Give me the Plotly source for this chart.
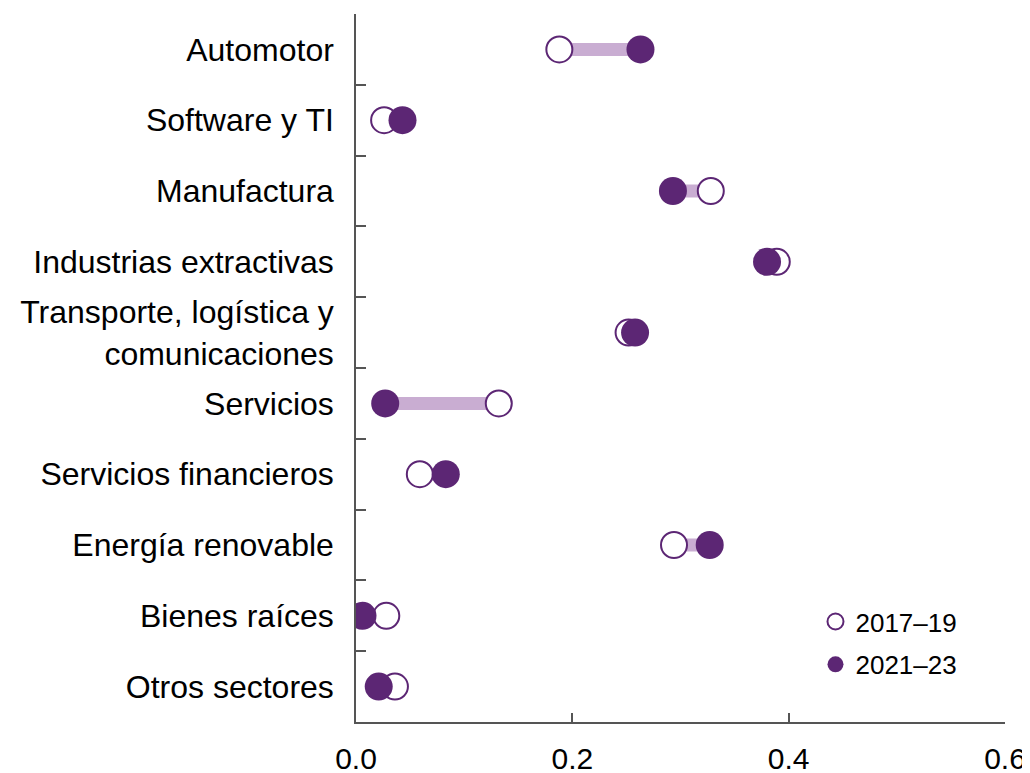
import plotly.graph_objects as go

categories = ["Automotor", "Software y TI", "Manufactura", "Industrias extractivas",
              "Transporte, logística y<br>comunicaciones", "Servicios",
              "Servicios financieros", "Energía renovable", "Bienes raíces", "Otros sectores"]
values_2017_19 = [0.188, 0.026, 0.328, 0.389, 0.252, 0.132, 0.059, 0.294, 0.028, 0.036]
values_2021_23 = [0.263, 0.043, 0.293, 0.380, 0.258, 0.027, 0.083, 0.327, 0.006, 0.021]
series_names = ["2017–19", "2021–23"]
x_ticks = [0.0, 0.2, 0.4, 0.6]

DARK = "#5C2674"
LIGHT = "#C9ADD2"
FONT = "Liberation Sans, Arial, sans-serif"

# connector segments
cx, cy = [], []
for c, a, b in zip(categories, values_2017_19, values_2021_23):
    cx += [a, b, None]
    cy += [c, c, None]

fig = go.Figure()
fig.add_trace(go.Scatter(x=cx, y=cy, mode="lines", line=dict(color=LIGHT, width=13),
                         showlegend=False, hoverinfo="skip"))
fig.add_trace(go.Scatter(x=values_2017_19, y=categories, mode="markers", name=series_names[0],
                         legendgroup="a",
                         marker=dict(size=26, color="white", line=dict(color=DARK, width=2))))
fig.add_trace(go.Scatter(x=values_2021_23, y=categories, mode="markers", name=series_names[1],
                         legendgroup="b",
                         marker=dict(size=28, color=DARK, line=dict(width=0))))

# page body adds an 8px offset, so the figure is sized/positioned to compensate
fig.update_layout(
    width=1022, height=765,
    margin=dict(l=348, r=25, t=6, b=51),
    paper_bgcolor="white", plot_bgcolor="white",
    font=dict(family=FONT, size=32, color="black"),
    legend=dict(x=0.708, y=0.175, xanchor="left", yanchor="top",
                font=dict(size=26, family=FONT), tracegroupgap=6,
                traceorder="grouped", bgcolor="rgba(0,0,0,0)"),
    xaxis=dict(range=[0, 0.6], tickvals=x_ticks, tickformat=".1f",
               ticks="inside", ticklen=9, tickcolor="#555", tickwidth=1.5,
               showline=True, linecolor="#555", linewidth=1.5,
               showgrid=False, zeroline=False, ticklabelstandoff=9,
               automargin=False, tickfont=dict(size=30)),
    yaxis=dict(type="category", categoryorder="array", categoryarray=categories[::-1],
               range=[-0.5, 9.5], tickson="boundaries",
               ticks="inside", ticklen=10, tickcolor="#555", tickwidth=1.5,
               showline=True, linecolor="#555", linewidth=1.5,
               showgrid=False, zeroline=False, ticklabelstandoff=14,
               automargin=False, tickfont=dict(size=32)),
)

fig.write_html("out.html")
